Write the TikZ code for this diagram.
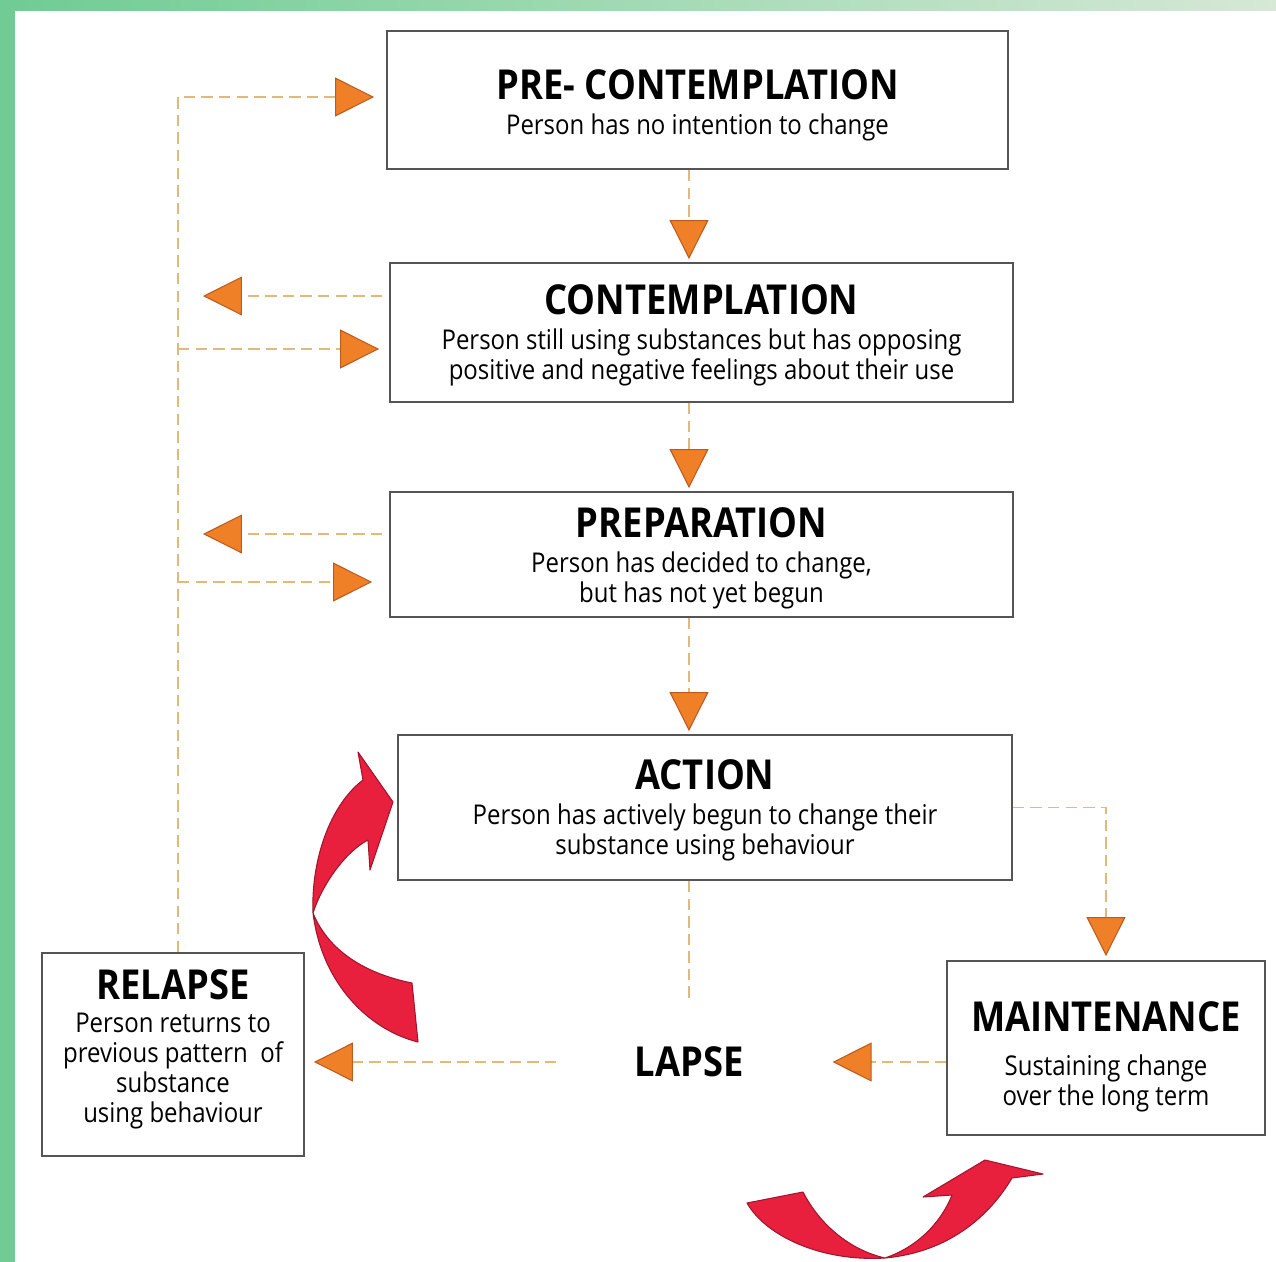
\documentclass[tikz,border=0pt]{standalone}
\usepackage{fontspec}
\setmainfont{Open Sans}[FakeStretch=0.88]
\usetikzlibrary{arrows.meta}

\definecolor{boxline}{RGB}{85,85,85}
\definecolor{dashtan}{RGB}{226,186,120}
\definecolor{tipfill}{RGB}{240,128,40}
\definecolor{tipedge}{RGB}{190,90,30}
\definecolor{ribbon}{RGB}{232,32,62}
\definecolor{ribbonedge}{RGB}{160,20,45}
\definecolor{frame}{RGB}{112,204,148}
\definecolor{framefade}{RGB}{214,232,214}

\newcommand{\hd}{\fontsize{23.5}{28}\selectfont\bfseries}
\newcommand{\toppad}[1]{\rule{0pt}{#1}}
\newcommand{\botpad}[1]{\rule[-#1]{0pt}{0pt}}

\begin{document}
\begin{tikzpicture}[x=0.02cm,y=-0.02cm,
    stage/.style={draw=boxline,line width=1.1pt,fill=white,align=center,inner sep=0pt,
      font=\fontsize{15.5}{17.1}\selectfont},
    plain/.style={draw=dashtan,line width=0.9pt,dash pattern=on 6.5pt off 3.5pt},
    flow/.style={plain,-{Triangle[length=0.78cm,width=0.78cm,fill=tipfill,color=tipedge,line width=0.6pt]}},
    ribbonarrow/.style={fill=ribbon,draw=ribbonedge,line width=0.6pt,line join=round}]

  % page and green frame
  \useasboundingbox (0,0) rectangle (1276,1262);
  \fill[white] (0,0) rectangle (1276,1262);
  \fill[frame] (0,0) rectangle (15,1262);
  \shade[left color=frame,right color=framefade] (15,0) rectangle (1276,10);

  % stages
  \node[stage,minimum width=12.42cm,minimum height=2.76cm] (pre)  at (697.5,100)
    {{\hd\toppad{23pt}PRE- CONTEMPLATION}\\[3pt]Person has no intention to change};
  \node[stage,minimum width=12.46cm,minimum height=2.78cm] (cont) at (701.5,332.5)
    {{\hd\toppad{20.5pt}CONTEMPLATION}\\[3pt]Person still using substances but has opposing\\positive and negative feelings about their use};
  \node[stage,minimum width=12.46cm,minimum height=2.5cm]  (prep) at (701.5,554.5)
    {{\hd\toppad{21pt}PREPARATION}\\[3pt]Person has decided to change,\\but has not yet begun};
  \node[stage,minimum width=12.28cm,minimum height=2.9cm]  (act)  at (705,807.5)
    {{\hd\toppad{20.5pt}ACTION}\\[3pt]Person has actively begun to change their\\substance using behaviour};
  \node[stage,minimum width=5.24cm,minimum height=4.06cm]  (relapse) at (173,1054.5)
    {{\hd RELAPSE}\\[2pt]Person returns to\\previous pattern\ \ of\\substance\\using behaviour\botpad{9.5pt}};
  \node[stage,minimum width=6.36cm,minimum height=3.48cm]  (maint) at (1106,1048)
    {{\hd\toppad{27pt}MAINTENANCE}\\[8pt]Sustaining change\\over the long term};
  \node[font=\hd] (lapse) at (689,1062) {LAPSE};

  % joints on the return line
  \coordinate (jc) at (178,349);
  \coordinate (jp) at (178,582);
  \coordinate (lc) at (203,296);
  \coordinate (lp) at (203,534);

  % main line down
  \draw[flow,shorten >=0.06cm] (pre.south -| lapse) -- (cont.north -| lapse);
  \draw[flow,shorten >=0.06cm] (cont.south -| lapse) -- (prep.north -| lapse);
  \draw[flow,shorten >=0.06cm] (prep.south -| lapse) -- (act.north -| lapse);
  \draw[plain,shorten >=0.75cm] (act.south -| lapse) -- (lapse.north);
  \draw[flow,shorten >=0.08cm] (act.east) -| (maint.north);
  \draw[flow,shorten >=1.66cm] (maint.west |- lapse.east) -- (lapse.east);
  \draw[flow,shorten <=1.44cm,shorten >=0.18cm] (lapse.west) -- (relapse.east |- lapse.west);

  % back out of a stage
  \draw[flow,shorten <=0.14cm] (lc -| cont.west) -- (lc);
  \draw[flow,shorten <=0.14cm] (lp -| prep.west) -- (lp);

  % return line from relapse
  \draw[flow,shorten >=0.24cm] ([xshift=0.1cm]relapse.north) |- ([yshift=0.06cm]pre.west);
  \draw[flow,shorten >=0.2cm] (jc) -- (jc -| cont.west);
  \draw[flow,shorten >=0.34cm] (jp) -- (jp -| prep.west);

  % red twisted arrows
  \filldraw[ribbonarrow] (313,913) .. controls (311,860) and (330,805) .. (363,780)
    -- (358,752) -- (393,802) -- (370,870) -- (368,840)
    .. controls (345,852) and (322,885) .. (313,913)
    .. controls (322,985) and (370,1030) .. (418,1042) -- (412,983)
    .. controls (372,975) and (330,955) .. (313,913) -- cycle;
  \filldraw[ribbonarrow] (747,1203) .. controls (765,1235) and (820,1262) .. (885,1258)
    .. controls (950,1252) and (990,1215) .. (1012,1178)
    -- (1043,1174) -- (985,1160) -- (923,1197) -- (952,1195)
    .. controls (940,1225) and (915,1248) .. (885,1258)
    .. controls (850,1250) and (820,1225) .. (803,1192) -- cycle;
\end{tikzpicture}
\end{document}
